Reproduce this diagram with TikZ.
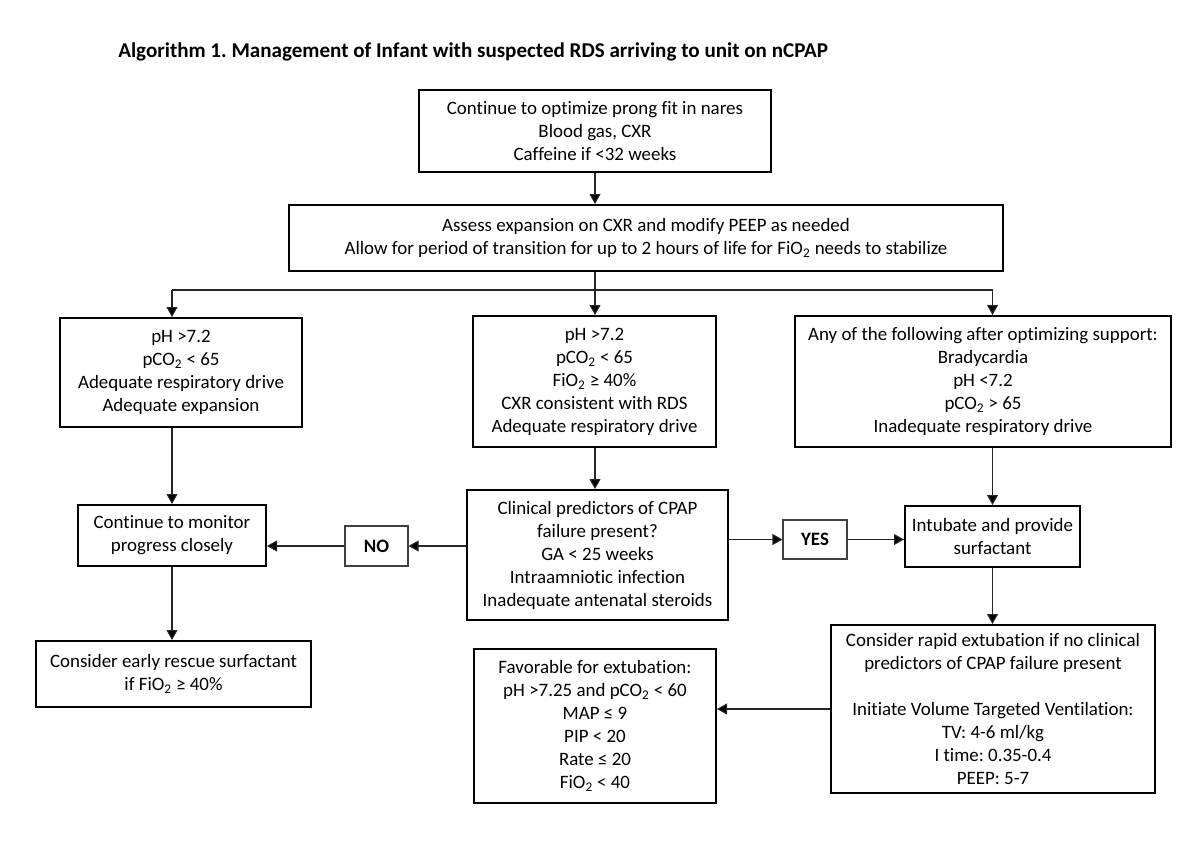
\documentclass[tikz,border=0pt]{standalone}
\usepackage{fontspec}
\setmainfont{Carlito}[Ligatures={NoCommon}]
\usetikzlibrary{arrows.meta,calc}
\newcommand{\two}{\textsubscript{2}}
\frenchspacing
\begin{document}
\begin{tikzpicture}[x=0.75pt,y=-0.75pt,
  wh/.style 2 args={minimum width={#1*0.75pt},minimum height={#2*0.75pt}},
  box/.style={draw=black,line width=1.5pt,align=center,inner sep=0pt,
    font=\fontsize{14.2}{17.25}\selectfont},
  small/.style={draw=black!75,line width=0.8pt,align=center,inner sep=0pt,
    font=\fontsize{14.2}{17.25}\selectfont\bfseries},
  conn/.style={draw=black!85,line width=0.8pt},
  arr/.style={conn,-{Triangle[length=7.5pt,width=8.2pt,fill=black]}}]
\useasboundingbox (0,0) rectangle (1200,856);
\node[anchor=base west,font=\fontsize{15.8}{19}\selectfont\bfseries,inner sep=0pt] (title) at (118,58)
  {Algorithm 1. Management of Infant with suspected RDS arriving to unit on nCPAP};

\node[box,wh={352}{82}] (b1) at (595,131)
  {Continue to optimize prong fit in nares\\Blood gas, CXR\\Caffeine if <32 weeks};
\node[box,wh={714}{66}] (b2) at (646,238)
  {Assess expansion on CXR and modify PEEP as needed\\Allow for period of transition for up to 2 hours of life for FiO\two{} needs to stabilize};
\node[box,wh={242}{109}] (l1) at (181,372.5)
  {pH >7.2\\pCO\two{} < 65\\Adequate respiratory drive\\Adequate expansion};
\node[box,wh={243}{131}] (m1) at (594.5,381.5)
  {pH >7.2\\pCO\two{} < 65\\FiO\two{} ≥ 40\%\\CXR consistent with RDS\\Adequate respiratory drive};
\node[box,wh={376}{131}] (r1) at (983,381.5)
  {Any of the following after optimizing support:\\Bradycardia\\pH <7.2\\pCO\two{} > 65\\Inadequate respiratory drive};
\node[box,wh={188}{61}] (l2) at (172,535.5)
  {Continue to monitor\\progress closely};
\node[box,wh={261}{130}] (m2) at (597.5,555)
  {Clinical predictors of CPAP\\failure present?\\GA < 25 weeks\\Intraamniotic infection\\Inadequate antenatal steroids};
\node[small,wh={63}{40}] (no) at (376.5,546) {NO};
\node[small,wh={64}{39}] (yes) at (815,539.5) {YES};
\node[box,wh={175}{61}] (r2) at (992.5,536.5)
  {Intubate and provide\\surfactant};
\node[box,wh={275}{66}] (l3) at (173.5,674)
  {Consider early rescue surfactant\\if FiO\two{} ≥ 40\%};
\node[box,wh={324}{168}] (r3) at (993,709)
  {Consider rapid extubation if no clinical\\predictors of CPAP failure present\\[17.25pt]Initiate Volume Targeted Ventilation:\\TV: 4-6 ml/kg\\I time: 0.35-0.4\\PEEP: 5-7};
\node[box,wh={242}{154}] (l4) at (595,726)
  {Favorable for extubation:\\pH >7.25 and pCO\two{} < 60\\MAP ≤ 9\\PIP < 20\\Rate ≤ 20\\FiO\two{} < 40};

\coordinate (split) at ($(b1.south |- b2.south)+(0,18)$);
\coordinate (splitL) at (split -| l2.north);
\coordinate (splitR) at (split -| r2.north);

\draw[arr] (b1.south) -- (b1.south |- b2.north);
\draw[conn] (b1.south |- b2.south) -- (split);
\draw[conn] (splitL) -- (splitR);
\draw[arr] (splitL) -- (splitL |- l1.north);
\draw[arr] (split) -- (split |- m1.north);
\draw[arr] (splitR) -- (splitR |- r1.north);
\draw[arr] (l2.north |- l1.south) -- (l2.north);
\draw[arr] (b1.south |- m1.south) -- (b1.south |- m2.north);
\draw[arr] (r2.north |- r1.south) -- (r2.north);
\draw[arr] (l2.south) -- (l2.south |- l3.north);
\draw[arr] (m2.west |- no.east) -- (no.east);
\draw[arr] (no.west) -- (no.west -| l2.east);
\draw[arr] (m2.east |- yes.west) -- (yes.west);
\draw[arr] (yes.east) -- (yes.east -| r2.west);
\draw[arr] (r2.south) -- (r2.south |- r3.north);
\draw[arr] (r3.west) -- (r3.west -| l4.east);
\end{tikzpicture}
\end{document}
